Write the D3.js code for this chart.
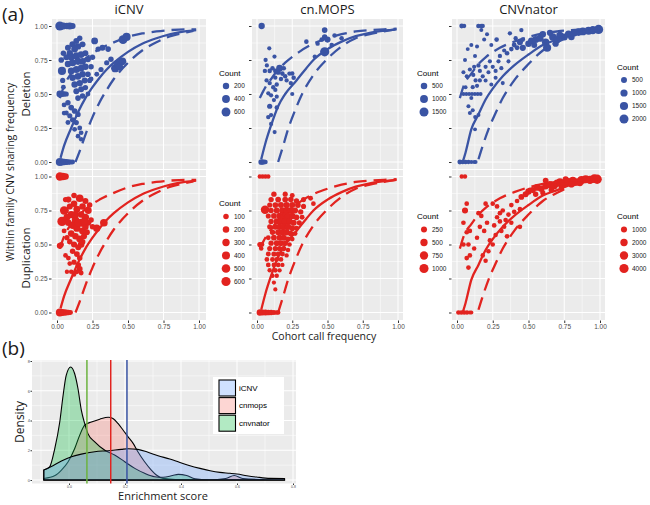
<!DOCTYPE html>
<html>
<head>
<meta charset="UTF-8">
<script src="https://d3js.org/d3.v7.min.js"></script>
<style>
  body { margin: 0; background: #fff; }
  svg { display: block; }
  .title { font-family: "Open Sans", sans-serif; fill: #1a1a1a; }
  .tick text, .leg { font-family: "Liberation Sans", Arial, sans-serif; }
</style>
</head>
<body>
<svg width="650" height="505"></svg>
<script>
// ---------- data: panel (a) ----------
var columns = ['iCNV', 'cn.MOPS', 'CNVnator'];
var rowNames = ['Deletion', 'Duplication'];
var freqTicks = [0, 0.25, 0.5, 0.75, 1];

// [cohort frequency, sharing frequency, count]
var delICNV = [
  [0.02,1,650],[0.045,1,250],[0.07,1,200],[0.09,1,300],[0.11,1,150],
  [0.02,0,450],[0.035,0,250],[0.05,0,200],[0.065,0,150],[0.08,0,120],[0.095,0,80],[0.11,0,60],
  [0.02,0.5,250],[0.035,0.5,150],[0.05,0.5,100],[0.065,0.5,80],
  [0.035,0.67,450],[0.03,0.75,120],[0.045,0.8,100],[0.04,0.6,80],[0.045,0.55,60],[0.05,0.42,60],[0.05,0.36,50],
  [0.077,0.84,150],[0.11,0.865,200],[0.136,0.89,150],[0.16,0.91,100],
  [0.09,0.8,200],[0.124,0.83,250],[0.148,0.85,200],[0.18,0.865,150],
  [0.066,0.77,150],[0.1,0.77,250],[0.136,0.78,300],[0.17,0.79,250],[0.2,0.8,150],
  [0.077,0.72,200],[0.11,0.73,300],[0.148,0.74,300],[0.18,0.74,250],[0.218,0.755,150],[0.25,0.77,100],
  [0.1,0.67,250],[0.136,0.68,300],[0.17,0.69,250],[0.2,0.7,200],[0.24,0.7,100],
  [0.11,0.62,200],[0.148,0.63,250],[0.18,0.645,200],[0.218,0.645,120],
  [0.124,0.57,200],[0.16,0.58,200],[0.195,0.6,150],[0.23,0.6,80],
  [0.136,0.52,150],[0.17,0.535,150],[0.2,0.547,100],
  [0.148,0.47,120],[0.18,0.485,100],[0.218,0.5,60],
  [0.077,0.436,100],[0.1,0.4,120],[0.124,0.375,120],[0.148,0.35,100],
  [0.09,0.34,80],[0.11,0.31,100],[0.136,0.29,80],[0.16,0.25,60],[0.17,0.215,50],
  [0.124,0.24,60],[0.148,0.19,50],[0.077,0.29,60],[0.066,0.36,60],[0.17,0.167,40],
  [0.265,0.89,250],[0.29,0.83,100],[0.32,0.84,150],[0.36,0.83,120],[0.38,0.755,100],[0.35,0.73,80],
  [0.31,0.68,80],[0.28,0.645,60],[0.24,0.61,60],
  [0.465,0.9,600],[0.49,0.92,450],[0.41,0.69,500],[0.43,0.72,450],[0.46,0.74,400],[0.44,0.7,300]
];
var dupICNV = [
  [0.02,1,450],[0.04,1,350],[0.06,1,200],
  [0.02,0,400],[0.035,0,250],[0.05,0,200],[0.065,0,150],[0.08,0,100],[0.095,0,60],
  [0.02,0.49,150],[0.03,0.5,80],
  [0.035,0.67,620],[0.05,0.75,450],[0.16,0.84,350],[0.33,0.66,350],[0.28,0.62,300],[0.13,0.68,300],
  [0.17,0.66,400],[0.2,0.7,300],[0.22,0.75,250],[0.1,0.72,300],[0.07,0.7,250],
  [0.08,0.83,150],[0.12,0.8,200],[0.09,0.78,150],[0.14,0.76,250],[0.18,0.78,200],[0.2,0.82,150],[0.23,0.79,100],
  [0.06,0.75,200],[0.08,0.66,200],[0.11,0.64,250],[0.14,0.62,300],[0.18,0.6,250],[0.2,0.63,200],[0.22,0.66,150],
  [0.24,0.68,100],[0.1,0.58,200],[0.13,0.56,200],[0.16,0.54,250],[0.19,0.56,150],[0.12,0.5,150],[0.15,0.48,150],
  [0.17,0.5,200],[0.11,0.45,100],[0.14,0.43,120],[0.16,0.4,100],[0.08,0.4,60],[0.06,0.42,50],[0.09,0.36,50],
  [0.12,0.37,80],[0.15,0.35,100],[0.16,0.32,120],[0.14,0.3,60],[0.1,0.3,40],[0.12,0.28,40],[0.07,0.3,30],
  [0.17,0.29,60],[0.09,0.52,100],[0.07,0.55,80],[0.05,0.6,60],[0.13,0.72,250],[0.17,0.72,200],[0.15,0.66,300],
  [0.19,0.67,250],[0.21,0.59,150],[0.18,0.52,120],[0.25,0.63,100],[0.12,0.86,100],[0.06,0.83,80]
];
var delMOPS = [
  [0.033,1,450],
  [0.03,0,300],[0.04,0,200],[0.05,0,150],[0.06,0,100],
  [0.087,0.836,60],[0.061,0.75,70],[0.056,0.67,80],[0.09,0.67,100],[0.124,0.775,60],[0.13,0.67,120],
  [0.16,0.69,600],[0.15,0.66,200],[0.11,0.69,100],[0.18,0.65,100],[0.2,0.63,90],[0.25,0.65,90],
  [0.26,0.62,100],[0.24,0.58,80],[0.25,0.5,60],[0.068,0.6,70],[0.09,0.58,80],[0.115,0.55,80],
  [0.13,0.53,70],[0.14,0.57,80],[0.08,0.505,60],[0.1,0.49,70],[0.14,0.48,60],[0.12,0.455,60],
  [0.09,0.41,200],[0.14,0.4,90],[0.08,0.33,80],[0.1,0.345,70],[0.1,0.28,60],[0.125,0.22,50],
  [0.17,0.61,80],[0.21,0.6,70],[0.23,0.65,80],[0.13,0.62,70],[0.07,0.71,60],[0.19,0.69,100],
  [0.48,0.97,300],[0.48,0.92,250],[0.5,0.9,400],[0.46,0.9,150],[0.55,0.93,100],[0.6,0.91,100],
  [0.53,0.86,100],[0.48,0.81,1600],[0.41,0.775,80],[0.35,0.885,100],[0.43,0.87,80]
];
var dupMOPS = [
  [0.02,1,60],[0.04,1,60],[0.06,1,60],[0.08,1,50],
  [0.02,0,300],[0.04,0,250],[0.06,0,220],[0.08,0,200],[0.10,0,150],[0.12,0,110],[0.14,0,80],[0.15,0,60],
  [0.02,0.5,120],[0.035,0.5,90],[0.03,0.47,60],
  [0.057,0.755,800],
  [0.12,0.87,150],[0.20,0.87,120],[0.25,0.86,100],
  [0.10,0.83,150],[0.15,0.83,200],[0.20,0.83,200],[0.24,0.83,180],[0.28,0.82,150],[0.33,0.83,120],[0.38,0.84,100],
  [0.09,0.79,120],[0.13,0.79,200],[0.17,0.79,250],[0.21,0.79,300],[0.25,0.79,250],[0.29,0.79,200],[0.33,0.78,120],[0.40,0.80,80],
  [0.10,0.75,150],[0.14,0.75,250],[0.18,0.75,300],[0.21,0.75,350],[0.24,0.75,300],[0.27,0.75,250],[0.31,0.74,150],
  [0.08,0.71,120],[0.12,0.71,200],[0.16,0.71,300],[0.19,0.71,400],[0.22,0.71,350],[0.25,0.71,300],[0.28,0.70,200],[0.32,0.70,100],
  [0.10,0.67,150],[0.14,0.67,250],[0.17,0.67,350],[0.20,0.67,400],[0.23,0.67,350],[0.26,0.66,250],[0.30,0.66,120],
  [0.09,0.63,120],[0.13,0.63,200],[0.16,0.63,300],[0.19,0.63,350],[0.22,0.63,300],[0.25,0.62,200],[0.28,0.62,100],
  [0.11,0.59,150],[0.15,0.59,250],[0.18,0.59,300],[0.21,0.59,300],[0.24,0.58,200],[0.27,0.58,100],
  [0.08,0.55,100],[0.12,0.55,200],[0.16,0.55,250],[0.19,0.55,250],[0.22,0.54,150],[0.25,0.54,80],
  [0.10,0.51,150],[0.14,0.51,200],[0.17,0.51,200],[0.20,0.51,150],[0.23,0.50,80],
  [0.09,0.47,120],[0.13,0.47,150],[0.16,0.47,150],[0.19,0.47,120],[0.22,0.46,60],
  [0.08,0.43,100],[0.12,0.43,120],[0.15,0.43,120],[0.18,0.43,100],[0.21,0.42,50],
  [0.07,0.39,80],[0.11,0.39,100],[0.14,0.39,100],[0.17,0.39,80],
  [0.08,0.35,80],[0.12,0.35,80],[0.15,0.35,80],[0.18,0.35,50],
  [0.09,0.31,60],[0.13,0.31,70],[0.16,0.31,50],
  [0.11,0.27,50],[0.14,0.27,50],[0.12,0.22,40],[0.13,0.17,40]
];
var delNATOR = [
  [0.033,1,200],[0.05,1,100],[0.15,1,150],[0.17,1,120],[0.18,1,100],[0.17,0.97,60],
  [0.02,0,200],[0.04,0,150],[0.06,0,120],[0.08,0,100],[0.1,0,80],[0.12,0,60],[0.13,0,50],
  [0.045,0.5,50],[0.065,0.5,50],[0.085,0.5,50],[0.105,0.5,50],[0.125,0.5,50],[0.145,0.5,50],[0.165,0.5,50],
  [0.1,0.86,60],[0.126,0.78,60],[0.056,0.75,60],[0.045,0.66,60],[0.068,0.63,60],[0.09,0.68,80],[0.114,0.64,80],
  [0.15,0.71,100],[0.16,0.67,80],[0.18,0.63,80],[0.2,0.7,80],[0.23,0.74,80],[0.277,0.9,150],[0.29,0.74,80],
  [0.31,0.69,80],[0.32,0.58,60],[0.37,0.946,100],[0.45,0.97,100],[0.41,0.91,100],[0.46,0.9,150],
  [0.08,0.41,60],[0.09,0.36,60],[0.11,0.38,60],[0.127,0.33,60],[0.15,0.345,60],[0.1,0.47,60],[0.126,0.24,50],
  [0.11,0.55,80],[0.13,0.6,80],[0.14,0.56,80],[0.16,0.6,80],[0.12,0.7,80],[0.2,0.6,60],[0.22,0.66,60],
  [0.25,0.7,80],[0.27,0.67,80],[0.3,0.78,100],[0.33,0.82,80],[0.35,0.8,150],[0.38,0.83,150],[0.4,0.86,200],
  [0.42,0.84,200],[0.36,0.74,60],[0.27,0.62,60],[0.24,0.57,50],[0.06,0.55,50],[0.075,0.83,50],[0.14,0.85,60],
  [0.19,0.9,60],[0.24,0.86,60],[0.21,0.94,60],
  [0.46,0.84,600],[0.5,0.87,700],[0.52,0.89,800],[0.55,0.9,900],[0.58,0.91,1000],[0.62,0.88,1100],[0.63,0.84,1500],
  [0.67,0.92,1100],[0.7,0.9,1000],[0.72,0.93,1100],[0.75,0.92,900],[0.78,0.94,1000],[0.82,0.95,1100],[0.85,0.955,1200],
  [0.88,0.96,1300],[0.92,0.965,1400],[0.95,0.97,1600],[0.99,0.975,2200],[0.6,0.94,700],[0.65,0.95,600],
  [0.44,0.88,500],[0.54,0.86,500],[0.69,0.87,600],[0.8,0.92,700]
];
var dupNATOR = [
  [0.033,1,200],[0.056,1,200],
  [0.01,0,300],[0.03,0,250],[0.05,0,200],[0.07,0,200],[0.09,0,150],[0.1,0,120],
  [0.056,0.75,1000],[0.068,0.8,300],[0.045,0.66,300],[0.068,0.59,300],[0.09,0.6,300],[0.045,0.5,300],
  [0.08,0.5,300],[0.068,0.4,300],[0.09,0.42,300],[0.08,0.33,300],[0.15,0.73,300],[0.17,0.71,300],
  [0.2,0.8,300],[0.16,0.63,300],[0.19,0.6,300],[0.21,0.66,300],[0.23,0.53,300],[0.25,0.8,300],
  [0.28,0.78,300],[0.3,0.73,300],[0.31,0.6,300],[0.34,0.68,300],[0.35,0.56,300],[0.38,0.79,300],
  [0.42,0.82,300],[0.44,0.76,300],[0.44,0.63,300],[0.28,0.7,250],[0.32,0.75,300],[0.36,0.72,300],
  [0.4,0.74,300],[0.38,0.66,250],[0.33,0.63,250],[0.27,0.57,250],[0.25,0.5,250],[0.22,0.45,250],
  [0.2,0.38,250],[0.18,0.42,250],[0.12,0.47,250],[0.14,0.55,250],[0.26,0.64,300],[0.3,0.67,300],
  [0.45,0.85,800],[0.48,0.87,1000],[0.5,0.89,1200],[0.51,0.9,400],[0.53,0.9,1000],[0.56,0.92,1500],
  [0.59,0.91,1300],[0.62,0.93,1500],[0.65,0.94,1800],[0.68,0.93,1500],[0.7,0.95,2000],[0.72,0.96,2200],
  [0.75,0.95,1800],[0.78,0.96,2500],[0.81,0.97,2200],[0.84,0.96,2000],[0.87,0.975,2500],[0.9,0.98,2800],
  [0.93,0.975,3000],[0.96,0.985,3500],[0.98,0.98,4200],[0.55,0.87,600],[0.6,0.88,500],[0.66,0.9,700],
  [0.73,0.92,600],[0.8,0.94,800],[0.86,0.95,900],[0.62,0.97,800],[0.76,0.98,1000]
];

// expected sharing curves [cohort frequency, sharing frequency]
var fitICNV = [[0.025,0.03],[0.05,0.12],[0.1,0.25],[0.15,0.37],[0.2,0.47],[0.25,0.55],[0.3,0.62],[0.35,0.68],[0.4,0.73],[0.5,0.81],[0.6,0.87],[0.7,0.91],[0.8,0.94],[0.9,0.96],[0.98,0.97]];
var upICNV = [[0.02,0.47],[0.05,0.56],[0.1,0.65],[0.15,0.71],[0.2,0.76],[0.3,0.83],[0.4,0.88],[0.5,0.92],[0.6,0.945],[0.7,0.96],[0.8,0.97],[0.9,0.975],[0.98,0.975]];
var loICNV = [[0.13,0.0],[0.16,0.08],[0.2,0.2],[0.25,0.33],[0.3,0.44],[0.35,0.53],[0.4,0.61],[0.5,0.73],[0.6,0.82],[0.7,0.88],[0.8,0.925],[0.9,0.95],[0.96,0.965]];
var fitMOPS = [[0.03,0.02],[0.06,0.14],[0.1,0.27],[0.15,0.41],[0.2,0.5],[0.28,0.6],[0.35,0.69],[0.4,0.75],[0.5,0.83],[0.6,0.885],[0.7,0.925],[0.8,0.95],[0.9,0.965],[0.99,0.975]];
var upMOPS = [[0.02,0.47],[0.06,0.55],[0.1,0.61],[0.15,0.68],[0.2,0.73],[0.3,0.81],[0.4,0.87],[0.5,0.91],[0.6,0.94],[0.7,0.96],[0.8,0.97],[0.9,0.975],[0.99,0.98]];
var loMOPS = [[0.15,0.0],[0.18,0.1],[0.22,0.24],[0.27,0.38],[0.32,0.5],[0.4,0.64],[0.5,0.76],[0.6,0.85],[0.7,0.91],[0.8,0.94],[0.9,0.96],[0.98,0.975]];
var fitNATOR = [[0.04,0.0],[0.06,0.07],[0.1,0.24],[0.15,0.35],[0.2,0.46],[0.25,0.54],[0.32,0.63],[0.4,0.71],[0.5,0.79],[0.6,0.86],[0.7,0.9],[0.8,0.94],[0.9,0.96],[0.98,0.97]];
var upNATOR = [[0.02,0.47],[0.05,0.57],[0.1,0.65],[0.15,0.72],[0.2,0.77],[0.3,0.84],[0.4,0.885],[0.5,0.92],[0.6,0.945],[0.7,0.96],[0.8,0.97],[0.9,0.975],[0.98,0.98]];
var loNATOR = [[0.15,0.02],[0.18,0.12],[0.22,0.24],[0.27,0.36],[0.32,0.47],[0.4,0.6],[0.5,0.72],[0.6,0.82],[0.7,0.88],[0.8,0.93],[0.9,0.955],[0.97,0.97]];

// legend breaks and largest count per panel
var legDelICNV = [200, 400, 600], legDelMOPS = [500, 1000, 1500], legDelNATOR = [500, 1000, 1500, 2000];
var legDupICNV = [100, 200, 300, 400, 500, 600], legDupMOPS = [250, 500, 750, 1000], legDupNATOR = [1000, 2000, 3000, 4000];
var maxDel = [700, 1700, 2300], maxDup = [650, 1100, 4300];

// ---------- data: panel (b) ----------
var densGroups = ['iCNV', 'cnmops', 'cnvnator'];
// [enrichment score, density]
var densICNV = [[-0.09,0.67],[-0.065,0.89],[-0.027,1.28],[0.009,1.57],[0.044,1.74],[0.092,1.9],[0.14,1.97],[0.187,2.06],[0.211,2.1],[0.246,2.06],[0.282,1.86],[0.318,1.63],[0.36,1.41],[0.396,1.18],[0.432,0.96],[0.468,0.78],[0.504,0.62],[0.539,0.51],[0.575,0.45],[0.6,0.4],[0.635,0.29],[0.67,0.2],[0.718,0.11],[0.77,0.1]];
var densMOPS = [[-0.09,0.1],[-0.05,0.3],[-0.027,0.67],[-0.003,1.23],[0.02,2.1],[0.038,3.0],[0.056,3.69],[0.08,3.9],[0.11,4.09],[0.14,4.22],[0.157,4.13],[0.175,3.8],[0.193,3.36],[0.211,2.9],[0.229,2.46],[0.246,1.9],[0.27,1.23],[0.294,0.67],[0.312,0.34],[0.336,0.11],[0.38,0.03],[0.5,0.02],[0.56,0.1],[0.59,0.3],[0.62,0.1],[0.7,0.02],[0.77,0.0]];
var densNATOR = [[-0.09,0.67],[-0.069,0.89],[-0.051,2.1],[-0.033,3.9],[-0.021,5.7],[-0.01,7.04],[0.006,7.6],[0.02,7.16],[0.032,6.15],[0.044,4.7],[0.056,3.8],[0.068,3.1],[0.092,2.57],[0.128,2.0],[0.163,1.68],[0.199,1.23],[0.235,0.78],[0.27,0.45],[0.306,0.22],[0.336,0.18],[0.37,0.3],[0.39,0.38],[0.42,0.3],[0.45,0.08],[0.5,0.02],[0.6,0.01],[0.77,0.0]];
var densMeans = [0.207, 0.149, 0.064];
var scoreTicks = [0, 0.2, 0.4, 0.6, 0.8];
var densTicks = [0, 2, 4, 6, 8];

// ---------- drawing ----------
var svg = d3.select('svg');
var blue = '#3a54a4', red = '#e2231f';

var colLayout = [
  { left: 52, right: 206, x0: 57, x1: 199 },
  { left: 252, right: 403, x0: 257, x1: 398 },
  { left: 452, right: 605, x0: 457, x1: 600 }
];
var rowLayout = [
  { top: 19, bottom: 169, y0: 162, y1: 26, color: blue },
  { top: 170, bottom: 320, y0: 312.5, y1: 176.5, color: red }
];
var points = [[delICNV, delMOPS, delNATOR], [dupICNV, dupMOPS, dupNATOR]];
var fits = [[fitICNV, upICNV, loICNV], [fitMOPS, upMOPS, loMOPS], [fitNATOR, upNATOR, loNATOR]];
var legends = [[legDelICNV, legDelMOPS, legDelNATOR], [legDupICNV, legDupMOPS, legDupNATOR]];
var maxes = [maxDel, maxDup];
// legend anchor: title x, title baseline, first item y
var legPos = [
  [[219, 76, 86], [417, 76, 86], [617, 70, 80]],
  [[219, 206, 216.5], [417, 219, 229.5], [617, 219, 229.5]]
];

rowLayout.forEach(function(R, ri) {
  colLayout.forEach(function(C, ci) {
    var x = d3.scaleLinear().domain([0, 1]).range([C.x0, C.x1]);
    var y = d3.scaleLinear().domain([0, 1]).range([R.y0, R.y1]);
    var r = d3.scaleSqrt().domain([0, maxes[ri][ci]]).range([1.5, 4.7]);
    var g = svg.append('g');

    g.append('rect').attr('x', C.left).attr('y', R.top)
      .attr('width', C.right - C.left).attr('height', R.bottom - R.top).attr('fill', '#ebebeb');

    var minor = [0.125, 0.375, 0.625, 0.875];
    g.selectAll('.mx').data(minor).enter().append('line')
      .attr('x1', x).attr('x2', x).attr('y1', R.top).attr('y2', R.bottom)
      .attr('stroke', '#fff').attr('stroke-width', 0.5);
    g.selectAll('.my').data(minor).enter().append('line')
      .attr('y1', y).attr('y2', y).attr('x1', C.left).attr('x2', C.right)
      .attr('stroke', '#fff').attr('stroke-width', 0.5);
    g.selectAll('.gx').data(freqTicks).enter().append('line')
      .attr('x1', x).attr('x2', x).attr('y1', R.top).attr('y2', R.bottom)
      .attr('stroke', '#fff').attr('stroke-width', 1);
    g.selectAll('.gy').data(freqTicks).enter().append('line')
      .attr('y1', y).attr('y2', y).attr('x1', C.left).attr('x2', C.right)
      .attr('stroke', '#fff').attr('stroke-width', 1);

    g.selectAll('circle.pt').data(points[ri][ci]).enter().append('circle')
      .attr('cx', function(d) { return x(d[0]); })
      .attr('cy', function(d) { return y(d[1]); })
      .attr('r', function(d) { return r(d[2]); })
      .attr('fill', R.color);

    var f = fits[ci];
    var mk = d3.line().curve(d3.curveMonotoneX)
      .x(function(d) { return x(d[0]); }).y(function(d) { return y(d[1]); });
    g.append('path').attr('d', mk(f[0])).attr('fill', 'none')
      .attr('stroke', R.color).attr('stroke-width', 2.3);
    [f[1], f[2]].forEach(function(c) {
      g.append('path').attr('d', mk(c)).attr('fill', 'none')
        .attr('stroke', R.color).attr('stroke-width', 2.3)
        .attr('stroke-dasharray', '13,7');
    });

    var ay = g.append('g').attr('transform', 'translate(' + (C.left - 0.5) + ',0)')
      .call(d3.axisLeft(y).tickValues(freqTicks).tickSize(2.5).tickPadding(1.5)
        .tickFormat(ci === 0 ? d3.format('.2f') : ''));
    ay.select('.domain').remove();
    ay.selectAll('line').attr('stroke', '#333');
    ay.selectAll('text').attr('fill', '#4d4d4d').style('font-size', '6.5px');

    if (ri === 1) {
      var ax = g.append('g').attr('transform', 'translate(0,' + (R.bottom + 0.5) + ')')
        .call(d3.axisBottom(x).tickValues(freqTicks).tickSize(2.5).tickPadding(1.5)
          .tickFormat(d3.format('.2f')));
      ax.select('.domain').remove();
      ax.selectAll('line').attr('stroke', '#333');
      ax.selectAll('text').attr('fill', '#4d4d4d').style('font-size', '6.5px');
    }

    // size legend
    var lp = legPos[ri][ci];
    g.append('text').attr('class', 'leg').attr('x', lp[0]).attr('y', lp[1])
      .style('font-size', '8px').text('Count');
    var items = g.selectAll('.li').data(legends[ri][ci]).enter().append('g')
      .attr('transform', function(d, i) { return 'translate(0,' + (lp[2] + i * 13) + ')'; });
    items.append('circle').attr('cx', lp[0] + 7).attr('r', function(d) { return r(d); })
      .attr('fill', R.color);
    items.append('text').attr('class', 'leg').attr('x', lp[0] + 15).attr('dy', '0.35em')
      .style('font-size', '6.5px').attr('fill', '#222').text(function(d) { return d; });
  });
});

// column titles and strip labels
colLayout.forEach(function(C, ci) {
  svg.append('text').attr('class', 'title').attr('x', (C.left + C.right) / 2).attr('y', 14)
    .attr('text-anchor', 'middle').style('font-size', '13px').text(columns[ci]);
});
[[94, rowNames[0]], [258, rowNames[1]]].forEach(function(p) {
  svg.append('text').attr('class', 'title').attr('transform', 'translate(30,' + p[0] + ') rotate(-90)')
    .attr('text-anchor', 'middle').style('font-size', '11.5px').text(p[1]);
});
svg.append('text').attr('class', 'title').attr('transform', 'translate(14,172) rotate(-90)')
  .attr('text-anchor', 'middle').style('font-size', '10.5px').text('Within family CNV sharing frequency');
svg.append('text').attr('class', 'title').attr('x', 324).attr('y', 340)
  .attr('text-anchor', 'middle').style('font-size', '10.5px').text('Cohort call frequency');
svg.append('text').attr('class', 'title').attr('x', 2).attr('y', 21)
  .style('font-size', '19px').text('(a)');
svg.append('text').attr('class', 'title').attr('x', 2).attr('y', 355)
  .style('font-size', '19px').text('(b)');

// ---------- panel (b): densities ----------
var bx = d3.scaleLinear().domain([0, 0.8]).range([69, 293]);
var by = d3.scaleLinear().domain([0, 8]).range([480, 361]);
var gb = svg.append('g');
gb.append('rect').attr('x', 32).attr('y', 360).attr('width', 264).attr('height', 123.5).attr('fill', '#ebebeb');
var bMinorX = [-0.1, 0.1, 0.3, 0.5, 0.7], bMinorY = [1, 3, 5, 7];
gb.selectAll('.bmx').data(bMinorX).enter().append('line')
  .attr('x1', bx).attr('x2', bx).attr('y1', 360).attr('y2', 483.5).attr('stroke', '#fff').attr('stroke-width', 0.5);
gb.selectAll('.bmy').data(bMinorY).enter().append('line')
  .attr('y1', by).attr('y2', by).attr('x1', 32).attr('x2', 296).attr('stroke', '#fff').attr('stroke-width', 0.5);
gb.selectAll('.bgx').data(scoreTicks).enter().append('line')
  .attr('x1', bx).attr('x2', bx).attr('y1', 360).attr('y2', 483.5).attr('stroke', '#fff').attr('stroke-width', 1);
gb.selectAll('.bgy').data(densTicks).enter().append('line')
  .attr('y1', by).attr('y2', by).attr('x1', 32).attr('x2', 296).attr('stroke', '#fff').attr('stroke-width', 1);

var fills = { iCNV: '#619cff', cnmops: '#f8766d', cnvnator: '#00ba38' };
var densData = { iCNV: densICNV, cnmops: densMOPS, cnvnator: densNATOR };
var area = d3.area().curve(d3.curveMonotoneX)
  .x(function(d) { return bx(d[0]); }).y0(by(0)).y1(function(d) { return by(d[1]); });
['cnmops', 'cnvnator', 'iCNV'].forEach(function(k) {
  gb.append('path').attr('d', area(densData[k]) + 'Z')
    .attr('fill', fills[k]).attr('fill-opacity', 0.3)
    .attr('stroke', '#000').attr('stroke-width', 1.1).attr('stroke-linejoin', 'round');
});
var vcol = ['#3a54a4', '#e2231f', '#6cb33f'];
densMeans.forEach(function(m, i) {
  gb.append('line').attr('x1', bx(m)).attr('x2', bx(m)).attr('y1', 360).attr('y2', 483.5)
    .attr('stroke', vcol[i]).attr('stroke-width', 1.5);
});

var bax = gb.append('g').attr('transform', 'translate(0,483.5)')
  .call(d3.axisBottom(bx).tickValues(scoreTicks).tickSize(1.5).tickPadding(0.3).tickFormat(d3.format('.1f')));
bax.select('.domain').remove();
bax.selectAll('line').attr('stroke', '#333');
bax.selectAll('text').attr('fill', '#4d4d4d').style('font-size', '3.5px');
var bay = gb.append('g').attr('transform', 'translate(32,0)')
  .call(d3.axisLeft(by).tickValues(densTicks).tickSize(1.5).tickPadding(0.5));
bay.select('.domain').remove();
bay.selectAll('line').attr('stroke', '#333');
bay.selectAll('text').attr('fill', '#4d4d4d').style('font-size', '4px');

// legend
gb.append('rect').attr('x', 213).attr('y', 377).attr('width', 71).attr('height', 57).attr('fill', '#fff');
densGroups.forEach(function(k, i) {
  var yy = 380 + i * 17.6;
  gb.append('rect').attr('x', 219).attr('y', yy).attr('width', 16.5).attr('height', 16)
    .attr('fill', fills[k]).attr('fill-opacity', 0.3).attr('stroke', '#000').attr('stroke-width', 1.1);
  gb.append('text').attr('class', 'leg').attr('x', 239).attr('y', yy + 8).attr('dy', '0.35em')
    .style('font-size', '8px').text(k);
});

svg.append('text').attr('class', 'title').attr('transform', 'translate(24,422) rotate(-90)')
  .attr('text-anchor', 'middle').style('font-size', '12px').text('Density');
svg.append('text').attr('class', 'title').attr('x', 163).attr('y', 499.5)
  .attr('text-anchor', 'middle').style('font-size', '11px').text('Enrichment score');
</script>
</body>
</html>
